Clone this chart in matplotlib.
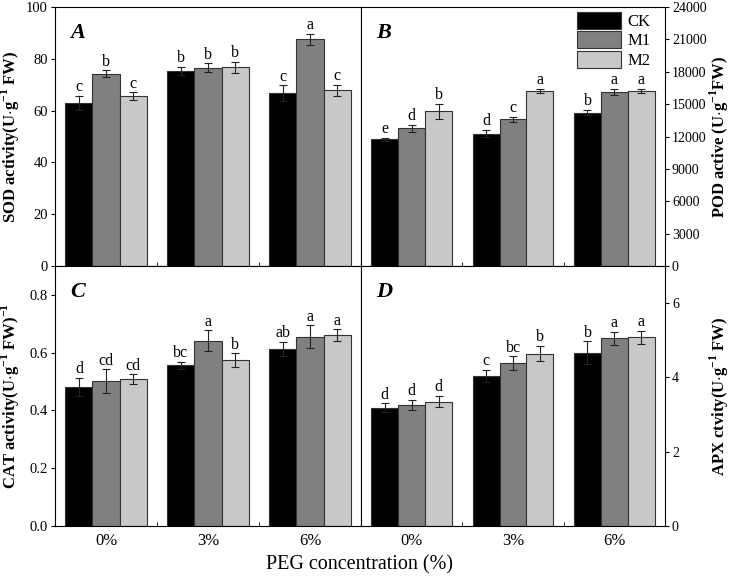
import numpy as np
from matplotlib import pyplot as plt

plt.rcParams['font.family'] = ['Liberation Serif', 'DejaVu Serif']
plt.rcParams['mathtext.fontset'] = 'custom'
plt.rcParams['mathtext.rm'] = 'Liberation Serif'
plt.rcParams['mathtext.bf'] = 'Liberation Serif:bold'

# groups and treatments
groups = ['0%', '3%', '6%']
treatments = ['CK', 'M1', 'M2']
colors = ['#000000', '#808080', '#c8c8c8']

# A - SOD (rows = treatment, cols = PEG level)
sod = [[62.9, 75.3, 66.7], [74.3, 76.6, 87.6], [65.5, 76.7, 67.8]]
sod_err = [[2.7, 1.6, 3.0], [1.2, 1.6, 2.1], [1.5, 2.2, 2.2]]
sod_lab = [['c', 'b', 'c'], ['b', 'b', 'a'], ['c', 'b', 'c']]

# B - POD
pod = [[11750, 12270, 14200], [12750, 13580, 16100], [14350, 16220, 16220]]
pod_err = [[150, 300, 250], [300, 250, 300], [700, 200, 150]]
pod_lab = [['e', 'd', 'b'], ['d', 'c', 'a'], ['b', 'a', 'a']]

# C - CAT
cat = [[0.482, 0.556, 0.613], [0.502, 0.642, 0.655], [0.509, 0.575, 0.660]]
cat_err = [[0.031, 0.013, 0.025], [0.040, 0.035, 0.040], [0.016, 0.023, 0.021]]
cat_lab = [['d', 'bc', 'ab'], ['cd', 'a', 'a'], ['cd', 'b', 'a']]

# D - APX
apx = [[3.18, 4.04, 4.66], [3.26, 4.39, 5.05], [3.35, 4.64, 5.08]]
apx_err = [[0.12, 0.17, 0.31], [0.13, 0.18, 0.18], [0.15, 0.21, 0.18]]
apx_lab = [['d', 'c', 'b'], ['d', 'bc', 'a'], ['d', 'b', 'a']]

fig = plt.figure(figsize=(7.33, 5.76), dpi=100)

L, M, R = 55 / 733, 361 / 733, 665 / 733
T, MID, B = 1 - 7 / 576, 1 - 266 / 576, 1 - 526 / 576
axA = fig.add_axes([L, MID, M - L, T - MID])
axB = fig.add_axes([M, MID, R - M, T - MID])
axC = fig.add_axes([L, B, M - L, MID - B])
axD = fig.add_axes([M, B, R - M, MID - B])

x = np.arange(len(groups))
w = 0.265


def draw(ax, vals, errs, labs, ymax, pad, panel):
    for i in range(3):
        ax.bar(x + (i - 1) * w, vals[i], w, yerr=errs[i], color=colors[i],
               edgecolor='#333333', linewidth=0.8, label=treatments[i],
               error_kw=dict(ecolor='#222222', elinewidth=0.8, capsize=3, capthick=0.8))
        for j in range(3):
            ax.text(x[j] + (i - 1) * w, vals[i][j] + errs[i][j] + pad, labs[i][j],
                    ha='center', va='bottom', fontsize=11.5)
    ax.set_xlim(-0.5, 2.5)
    ax.set_ylim(0, ymax)
    ax.set_xticks(x)
    ax.set_xticks([0.5, 1.5], minor=True)
    ax.tick_params(axis='x', which='major', length=0, labelsize=12, pad=5)
    ax.tick_params(axis='x', which='minor', direction='in', length=3)
    ax.tick_params(axis='y', direction='out', length=3, labelsize=10.5, pad=2)
    ax.text(0.05, 0.9, panel, transform=ax.transAxes, fontsize=16,
            fontweight='bold', fontstyle='italic', va='center')


draw(axA, sod, sod_err, sod_lab, 100, 0.3, 'A')
draw(axB, pod, pod_err, pod_lab, 24000, 80, 'B')
draw(axC, cat, cat_err, cat_lab, 0.9, 0.002, 'C')
draw(axD, apx, apx_err, apx_lab, 7, 0.02, 'D')

axA.set_yticks(np.arange(0, 101, 20))
axA.set_xticklabels([])
axB.set_xticklabels([])
axC.set_xticklabels(groups)
axD.set_xticklabels(groups)
axC.set_yticks(np.arange(0, 0.81, 0.2))
axC.set_yticklabels(['0.0', '0.2', '0.4', '0.6', '0.8'])

axB.set_yticks(np.arange(0, 24001, 3000))
axD.set_yticks([0, 2, 4, 6])
for ax in (axB, axD):
    ax.yaxis.tick_right()
    ax.yaxis.set_label_position('right')
    ax.tick_params(axis='y', labelsize=10)

axA.set_ylabel(r'SOD activity(U$\cdot$g$^{\mathbf{-1}}$ FW)', fontsize=12, fontweight='bold')
axB.set_ylabel(r'POD active (U$\cdot$g$^{\mathbf{-1}}$FW)', fontsize=12, fontweight='bold',
               rotation=90)
axC.set_ylabel(r'CAT activity(U$\cdot$g$^{\mathbf{-1}}$ FW)$^{\mathbf{-1}}$', fontsize=12, fontweight='bold')
axD.set_ylabel(r'APX ctvity(U$\cdot$g$^{\mathbf{-1}}$ FW)', fontsize=12, fontweight='bold',
               rotation=90)
for ax in (axA, axC):
    ax.yaxis.set_label_coords(-0.108, 0.5)
for ax in (axB, axD):
    ax.yaxis.set_label_coords(1.14, 0.5)

axB.legend(loc='upper right', bbox_to_anchor=(0.985, 1.02), frameon=False,
           fontsize=12, handlelength=2.6, handleheight=1.2, labelspacing=0.08,
           handletextpad=0.4, borderpad=0.1)

fig.text(0.49, 1 - 565 / 576, 'PEG concentration (%)', ha='center', va='center', fontsize=14.5)

plt.savefig('out.png', dpi=100)
